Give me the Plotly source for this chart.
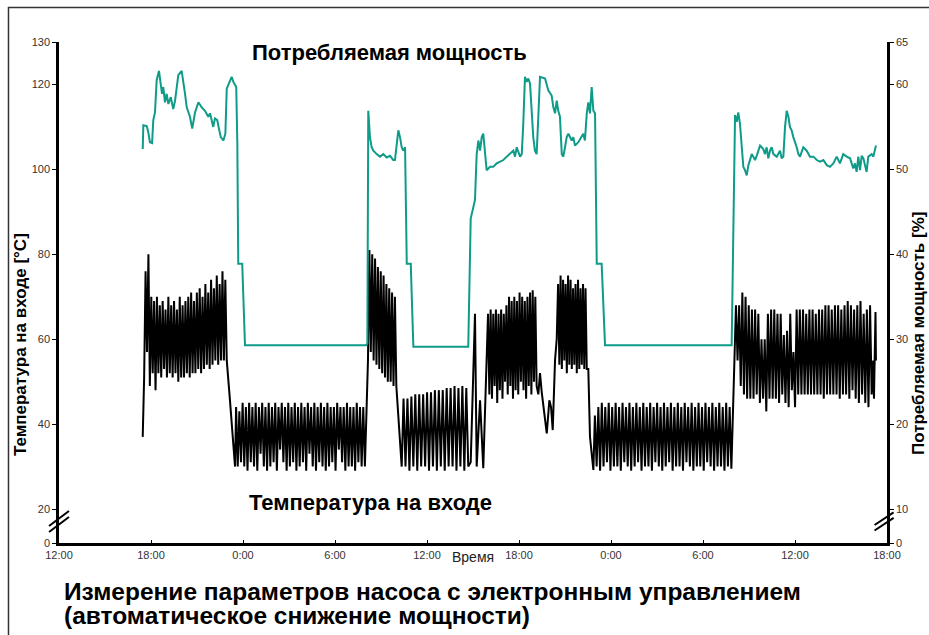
import plotly.graph_objects as go

# ---------------- axis definitions ----------------
# x: hours since 12:00 of the first day
x_tickvals = [0, 6, 12, 18, 24, 30, 36, 42, 48, 54]
x_ticktext = ["12:00", "18:00", "0:00", "6:00", "12:00", "18:00", "0:00", "6:00", "12:00", "18:00"]

# broken left axis: the "0" label sits just below the break (value 12 on the scale)
temp_tickvals = [12, 20, 40, 60, 80, 100, 120, 130]
temp_ticktext = ["0", "20", "40", "60", "80", "100", "120", "130"]
power_tickvals = [6, 10, 20, 30, 40, 50, 60, 65]
power_ticktext = ["0", "10", "20", "30", "40", "50", "60", "65"]

# ---------------- power consumption [%] ----------------
power_hours = [
    5.46, 5.50, 5.72, 5.82, 5.93, 6.07, 6.15, 6.26, 6.37, 6.52,
    6.63, 6.72, 6.80, 6.91, 7.02, 7.13, 7.29, 7.45, 7.57, 7.68,
    7.78, 8.00, 8.11, 8.22, 8.33, 8.43, 8.54, 8.69, 8.87, 9.09,
    9.31, 9.52, 9.74, 9.85, 9.96, 10.06, 10.17, 10.32, 10.43, 10.55,
    10.72, 10.85, 10.94, 11.15, 11.26, 11.37, 11.48, 11.56, 11.63, 11.69,
    11.95, 12.13,
    20.02, 20.11, 20.17, 20.28, 20.39, 20.50, 20.72, 20.93, 21.15, 21.37,
    21.59, 21.80, 21.91, 22.02, 22.13, 22.24, 22.35, 22.45, 22.57, 22.68,
    22.94, 23.11, 26.69, 26.85, 27.13, 27.24, 27.35, 27.46, 27.57, 27.67,
    27.78, 27.89, 28.11, 28.32, 28.54, 28.76, 28.98, 29.20, 29.41, 29.63,
    29.74, 29.85, 30.07, 30.18, 30.28, 30.39, 30.50, 30.61, 30.72, 30.83,
    30.93, 31.04, 31.15, 31.26, 31.37, 31.70, 31.81, 31.91, 32.13, 32.24,
    32.35, 32.46, 32.56, 32.67, 32.79, 32.89, 33.00, 33.11, 33.22, 33.44,
    33.54, 33.65, 33.87, 34.09, 34.19, 34.30, 34.42, 34.52, 34.63, 34.74,
    34.85, 34.96, 35.07, 35.39, 35.61, 43.87,
    44.09, 44.20, 44.30, 44.41, 44.52, 44.63, 44.74, 44.85, 44.96,
    45.07, 45.18, 45.28, 45.39, 45.50, 45.72, 45.83, 45.93, 46.04, 46.15,
    46.26, 46.37, 46.48, 46.59, 46.81, 47.02, 47.13, 47.24, 47.35, 47.46,
    47.57, 47.67, 47.78, 47.89, 48.11, 48.22, 48.33, 48.44, 48.54, 48.76,
    48.98, 49.20, 49.42, 49.63, 49.85, 50.07, 50.28, 50.50, 50.72, 50.93,
    51.15, 51.37, 51.59, 51.80, 51.91, 52.02, 52.13, 52.24, 52.35, 52.46,
    52.67, 52.78, 53.00, 53.11, 53.28,
]
power_values = [
    52.4, 55.2, 55.1, 54.4, 53.2, 53.1, 55.8, 56.7, 60.5, 61.6,
    60.1, 58.9, 59.7, 57.9, 58.9, 57.7, 58.5, 57.1, 58.1, 60.1,
    61.1, 61.6, 60.5, 58.9, 57.3, 56.7, 56.2, 54.8, 56.7, 57.9,
    57.3, 56.9, 56.2, 56.6, 55.6, 55.0, 56.0, 55.8, 54.8, 53.8,
    53.4, 54.2, 59.5, 60.3, 60.9, 60.3, 59.9, 59.7, 53.0, 38.9,
    38.9, 29.3,
    29.3, 29.5, 56.9, 53.8, 52.6, 52.2, 51.8, 51.5, 51.8, 51.4,
    51.6, 51.1, 51.1, 53.0, 54.6, 53.8, 52.6, 52.2, 52.6, 38.9,
    38.9, 29.1, 29.1, 44.2, 46.4, 51.8, 53.4, 52.2, 53.8, 54.2,
    52.2, 49.9, 50.3, 50.3, 50.7, 50.9, 51.1, 51.5, 51.8, 52.2,
    51.5, 52.6, 51.5, 51.8, 55.4, 60.9, 60.3, 60.7, 60.1, 56.9,
    53.8, 52.2, 51.8, 56.2, 60.9, 60.7, 60.1, 59.3, 58.7, 57.3,
    56.6, 58.1, 56.9, 56.2, 51.8, 51.5, 52.6, 53.8, 54.2, 53.4,
    53.8, 52.8, 53.2, 53.8, 54.2, 53.4, 56.6, 57.9, 56.6, 59.7,
    56.9, 56.6, 38.9, 38.9, 29.3, 29.3,
    56.4, 55.6, 56.7, 55.4, 52.6, 50.3, 49.9, 49.3, 50.5,
    51.1, 51.8, 51.5, 51.1, 51.6, 52.8, 52.6, 52.4, 51.8, 52.6,
    51.3, 52.2, 52.6, 51.8, 51.5, 52.2, 51.3, 51.5, 55.0, 56.9,
    56.2, 55.0, 54.6, 53.8, 52.6, 51.8, 51.5, 52.0, 52.6, 52.2,
    51.5, 51.5, 51.1, 50.9, 51.1, 50.5, 50.3, 50.7, 51.5, 50.7,
    51.8, 51.5, 51.3, 50.1, 50.7, 49.7, 51.5, 49.9, 51.6, 51.3,
    49.7, 51.5, 51.8, 51.5, 52.8,
]

# ---------------- inlet temperature [°C] ----------------
# regularly sampled blocks: (start hour, end hour, readings)
temp_on1 = [37, 51, 76, 57, 80, 49, 70, 52, 69, 48,
            70, 52, 68, 51, 69, 53, 67, 51, 70, 52,
            68, 51, 69, 52, 67, 50, 70, 51, 68, 51,
            69, 52, 70, 51, 71, 52, 69, 52, 71, 53,
            72, 52, 70, 53, 73, 54, 71, 53, 74, 54,
            72, 55, 75, 54, 73, 55, 76, 55, 74, 55]
temp_off1 = [44, 30, 43, 31, 45, 30, 44, 29, 45, 31,
             44, 30, 45, 29, 44, 33, 45, 30, 44, 29,
             45, 30, 44, 31, 45, 29, 44, 34, 45, 31,
             44, 29, 45, 30, 44, 31, 45, 29, 44, 30,
             45, 31, 44, 29, 45, 33, 44, 30, 45, 29,
             44, 31, 45, 30, 44, 29, 45, 30, 44, 31,
             44, 29, 45, 34, 44, 31, 44, 29, 45, 30,
             44, 30, 44, 29, 45, 31, 44, 30, 44, 30]
temp_on2 = [55, 81, 57, 80, 55, 79, 54, 77, 53, 76,
            52, 75, 51, 73, 50, 72, 50, 71, 49, 70, 49]
temp_off2 = [46, 30, 46, 29, 46.5, 30, 47, 29, 47, 30,
             47, 30, 47.5, 29, 47.5, 30, 48, 29, 48, 30,
             48, 29, 48.5, 30, 48.5, 30, 49, 29, 48.5, 30,
             49, 29, 48.5, 30]
temp_on3 = [66, 47, 67, 46, 66, 49, 67, 45, 66, 48,
            67, 46, 66, 50, 68, 47, 70, 49, 69, 46,
            70, 48, 69, 47, 71, 50, 70, 48, 69, 46,
            70, 49, 71, 47, 71.5, 50, 70, 49]
temp_on4 = [73, 54, 75, 53, 74, 55, 73, 52, 75, 54,
            74, 53, 72, 54, 73, 52, 74, 53, 72, 54,
            73, 53, 72, 53]
temp_off3 = [42, 30, 44, 29, 45, 30, 44, 31, 45, 29,
             44, 30, 45, 30, 44, 29, 45, 31, 44, 30,
             45, 29, 44, 30, 45, 31, 44, 29, 45, 30,
             44, 30, 45, 29, 44, 31, 45, 30, 44, 29,
             45, 30, 44, 31, 45, 29, 44, 30, 45, 30,
             44, 29, 45, 31, 44, 30, 45, 29, 44, 30,
             45, 30, 44, 29, 45, 31, 44, 30, 45, 29,
             44, 30, 45, 30, 44, 29, 45, 30, 44, 29.5]
temp_on5 = [68, 55, 68, 49, 71, 47, 70, 46, 68, 46,
            67, 46, 67, 47, 66, 45, 60, 46, 60, 43,
            66, 46, 67, 46, 67, 46, 66, 45, 66, 47,
            61, 45, 62, 44, 66, 48, 57, 44, 67, 47,
            67, 47, 67, 47, 66, 47, 67, 47, 67, 47,
            66, 47, 67, 47, 67, 46, 68, 47, 68, 47,
            67, 47, 68, 47, 68, 46, 67, 47, 68, 47,
            69, 46, 68, 48, 67, 46, 68, 45, 69, 47,
            66, 45, 67, 44, 68, 47]

# irregular readings between the blocks: (hours, values)
temp_tr1_h, temp_tr1_v = [11.15, 11.37, 11.48], [45.6, 34, 30]
temp_tr2_h, temp_tr2_v = [22.13, 22.35], [42, 30]
temp_tr3_h, temp_tr3_v = [26.85, 27.13, 27.24, 27.46, 27.67, 27.89], [31, 66, 30, 45.6, 29.6, 56]
temp_tr4_h = [31.26, 31.37, 31.48, 31.81, 31.98, 32.09, 32.20, 32.35, 32.46]
temp_tr4_v = [47, 52, 47.6, 37.8, 45.6, 44, 38.6, 55, 60]
temp_tr5_h, temp_tr5_v = [34.52, 34.63, 34.85], [53, 37, 29.2]
temp_tr6_h, temp_tr6_v = [44.05], [56.7]
temp_tr7_h, temp_tr7_v = [53.10, 53.15, 53.25, 53.28], [55, 46, 66.4, 55]


def block(t0, t1, vals):
    n = len(vals)
    step = (t1 - t0) / (n - 1)
    return [t0 + i * step for i in range(n)], list(vals)


pieces = [
    block(5.46, 10.94, temp_on1),
    (temp_tr1_h, temp_tr1_v),
    block(11.55, 19.95, temp_off1),
    block(20.15, 22.00, temp_on2),
    (temp_tr2_h, temp_tr2_v),
    block(22.47, 26.69, temp_off2),
    (temp_tr3_h, temp_tr3_v),
    block(27.98, 31.15, temp_on3),
    (temp_tr4_h, temp_tr4_v),
    block(32.55, 34.42, temp_on4),
    (temp_tr5_h, temp_tr5_v),
    block(34.95, 43.85, temp_off3),
    (temp_tr6_h, temp_tr6_v),
    block(44.15, 53.00, temp_on5),
    (temp_tr7_h, temp_tr7_v),
]
temp_hours, temp_values = [], []
for h, v in pieces:
    temp_hours += list(h)
    temp_values += list(v)

n = min(len(power_hours), len(power_values))
power_hours, power_values = power_hours[:n], power_values[:n]

# ---------------- figure ----------------
FONT = "Liberation Sans, Arial, Helvetica, sans-serif"
TEAL = "#0e9b88"

fig = go.Figure()
fig.add_trace(go.Scatter(x=temp_hours, y=temp_values, mode="lines",
                         line=dict(color="black", width=2), yaxis="y",
                         name="Температура на входе", hoverinfo="skip"))
fig.add_trace(go.Scatter(x=power_hours, y=power_values, mode="lines",
                         line=dict(color=TEAL, width=2), yaxis="y2",
                         name="Потребляемая мощность", hoverinfo="skip"))

axis_common = dict(showgrid=False, zeroline=False, showline=True, linecolor="black",
                   linewidth=2.5, tickcolor="black", tickwidth=1,
                   tickfont=dict(family=FONT, size=11, color="#333"))

# the page margin is removed below, so the figure fills the whole 929x635 window
fig.update_layout(
    width=929, height=635,
    margin=dict(l=59, r=42, t=42, b=92),
    paper_bgcolor="white", plot_bgcolor="white",
    showlegend=False,
    xaxis=dict(range=[0, 54], tickvals=x_tickvals, ticktext=x_ticktext,
               ticks="inside", ticklen=3, **axis_common),
    yaxis=dict(range=[12, 130], tickvals=temp_tickvals, ticktext=temp_ticktext,
               ticks="outside", ticklen=4, **axis_common),
    yaxis2=dict(range=[6, 65], tickvals=power_tickvals, ticktext=power_ticktext,
                overlaying="y", side="right", ticks="outside", ticklen=4, **axis_common),
)


def note(text, x, y, size, bold=True, angle=0, xanchor="center", color="black"):
    return dict(text=("<b>%s</b>" % text) if bold else text, x=x, y=y,
                xref="paper", yref="paper", xanchor=xanchor, yanchor="middle",
                showarrow=False, textangle=angle,
                font=dict(family=FONT, size=size, color=color))


ann = [
    note("Потребляемая мощность", 0.3986, 0.980, 22),
    note("Температура на входе", 0.376, 0.0818, 22),
    note("Время", 0.5, -0.028, 14, bold=False, color="#222"),
    note("Температура на входе [°C]", -0.0471, 0.395, 17, angle=-90),
    note("Потребляемая мощность [%]", 1.0374, 0.419, 17, angle=-90),
    note("Измерение параметров насоса с электронным управлением", 0.0036, -0.0978, 24.5,
         xanchor="left"),
    note("(автоматическое снижение мощности)", 0.0036, -0.1447, 24.5, xanchor="left"),
]
fig.update_layout(annotations=ann)

shapes = [
    # outer frame (its right and bottom sides lie beyond the picture edge)
    dict(type="rect", xref="paper", yref="paper", x0=-0.0610, x1=1.08, y0=-0.25, y1=1.0689,
         line=dict(color="#333", width=1.5)),
    # axis break marks
    dict(type="line", xref="paper", yref="paper", x0=-0.012, y0=0.034, x1=0.012, y1=0.064,
         line=dict(color="black", width=2)),
    dict(type="line", xref="paper", yref="paper", x0=-0.012, y0=0.022, x1=0.012, y1=0.052,
         line=dict(color="black", width=2)),
    dict(type="line", xref="paper", yref="paper", x0=0.985, y0=0.036, x1=1.008, y1=0.061,
         line=dict(color="black", width=2)),
    dict(type="line", xref="paper", yref="paper", x0=0.985, y0=0.025, x1=1.008, y1=0.050,
         line=dict(color="black", width=2)),
]
fig.update_layout(shapes=shapes)

fig.write_html(
    "out.html",
    config={"displayModeBar": False},
    post_script="document.body.style.margin='0';"
                "document.documentElement.style.overflow='hidden';"
                "document.body.style.overflow='hidden';",
)
